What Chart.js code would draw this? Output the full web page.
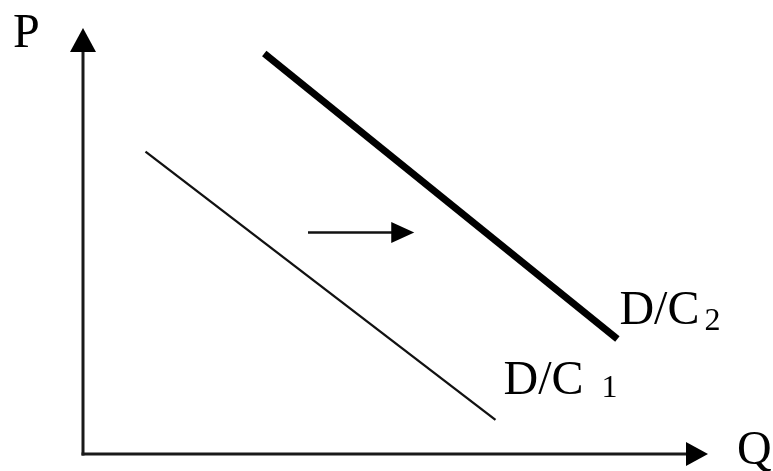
<!DOCTYPE html>
<html>
<head>
<meta charset="utf-8">
<script src="https://cdn.jsdelivr.net/npm/chart.js@4/dist/chart.umd.min.js"></script>
<style>
  html, body { margin: 0; padding: 0; background: #fff; }
  #wrap { width: 773px; height: 471px; }
</style>
</head>
<body>
<div id="wrap"><canvas id="c" width="773" height="471"></canvas></div>
<script>
// Demand curves in (Q, P) units; both axes run 0..100
const curveNames = ['D/C 1', 'D/C2'];
const demand1Q = [10, 66];
const demand1P = [71, 8];
const demand2Q = [29, 85.5];
const demand2P = [94, 27];
// Horizontal shift arrow between the curves
const shiftQ = [36, 53];
const shiftP = [52, 52];
const axisLabels = ['P', 'Q'];

const toPts = (xs, ys) => xs.map((x, i) => ({ x: x, y: ys[i] }));

const SERIF = '"Liberation Serif", "Times New Roman", serif';

function arrowHead(ctx, tipX, tipY, dir, len, half) {
  // dir: unit vector pointing toward the tip
  const bx = tipX - dir[0] * len, by = tipY - dir[1] * len;
  const nx = -dir[1], ny = dir[0];
  ctx.beginPath();
  ctx.moveTo(tipX, tipY);
  ctx.lineTo(bx + nx * half, by + ny * half);
  ctx.lineTo(bx - nx * half, by - ny * half);
  ctx.closePath();
  ctx.fill();
}

const decorations = {
  id: 'decorations',
  beforeDatasetsDraw(chart) {
    const { ctx, chartArea: a } = chart;
    ctx.save();
    ctx.strokeStyle = '#1a1a1a';
    ctx.fillStyle = '#000';
    ctx.lineWidth = 3;
    ctx.lineCap = 'butt';
    const ox = a.left, oy = a.bottom;
    // vertical axis
    ctx.beginPath();
    ctx.moveTo(ox, oy + 1.5);
    ctx.lineTo(ox, a.top + 20);
    ctx.stroke();
    arrowHead(ctx, ox, a.top, [0, -1], 24, 13);
    // horizontal axis
    ctx.beginPath();
    ctx.moveTo(ox - 1.5, oy);
    ctx.lineTo(a.right - 20, oy);
    ctx.stroke();
    arrowHead(ctx, a.right, oy, [1, 0], 22, 12);
    ctx.restore();
  },
  afterDatasetsDraw(chart) {
    const { ctx, chartArea: a, scales: { x, y } } = chart;
    ctx.save();
    ctx.fillStyle = '#000';
    ctx.textBaseline = 'alphabetic';
    ctx.textAlign = 'left';

    // shift arrow head
    const tx = x.getPixelForValue(shiftQ[1]);
    const ty = y.getPixelForValue(shiftP[1]);
    arrowHead(ctx, tx, ty, [1, 0], 23, 10.5);

    // axis titles
    ctx.font = '48px ' + SERIF;
    ctx.fillText(axisLabels[0], a.left - 70, a.top + 19);
    ctx.fillText(axisLabels[1], a.right + 29, a.bottom + 10);

    // curve labels next to the lower ends of the lines
    const e1x = x.getPixelForValue(demand1Q[1]);
    const e1y = y.getPixelForValue(demand1P[1]);
    ctx.font = '48px ' + SERIF;
    ctx.fillText('D/C', e1x + 8, e1y - 26);
    ctx.font = '32px ' + SERIF;
    ctx.fillText('1', e1x + 106, e1y - 23);

    const e2x = x.getPixelForValue(demand2Q[1]);
    const e2y = y.getPixelForValue(demand2P[1]);
    ctx.font = '48px ' + SERIF;
    ctx.fillText('D/C', e2x + 2, e2y - 15);
    ctx.font = '32px ' + SERIF;
    ctx.fillText('2', e2x + 87, e2y - 9);
    ctx.restore();
  }
};

new Chart(document.getElementById('c'), {
  type: 'scatter',
  data: {
    datasets: [
      {
        label: curveNames[0],
        data: toPts(demand1Q, demand1P),
        showLine: true,
        borderColor: '#111',
        borderWidth: 2.3,
        pointRadius: 0,
        borderCapStyle: 'butt'
      },
      {
        label: curveNames[1],
        data: toPts(demand2Q, demand2P),
        showLine: true,
        borderColor: '#000',
        borderWidth: 7,
        pointRadius: 0,
        borderCapStyle: 'butt'
      },
      {
        label: 'shift',
        data: toPts([shiftQ[0], shiftQ[1] - 3], shiftP),
        showLine: true,
        borderColor: '#111',
        borderWidth: 2.5,
        pointRadius: 0,
        borderCapStyle: 'butt'
      }
    ]
  },
  options: {
    responsive: false,
    animation: false,
    devicePixelRatio: 1,
    layout: { padding: { left: 83, top: 28, right: 65, bottom: 17 } },
    scales: {
      x: { type: 'linear', min: 0, max: 100, display: false },
      y: { type: 'linear', min: 0, max: 100, display: false }
    },
    plugins: {
      legend: { display: false },
      tooltip: { enabled: false }
    }
  },
  plugins: [decorations]
});
</script>
</body>
</html>
